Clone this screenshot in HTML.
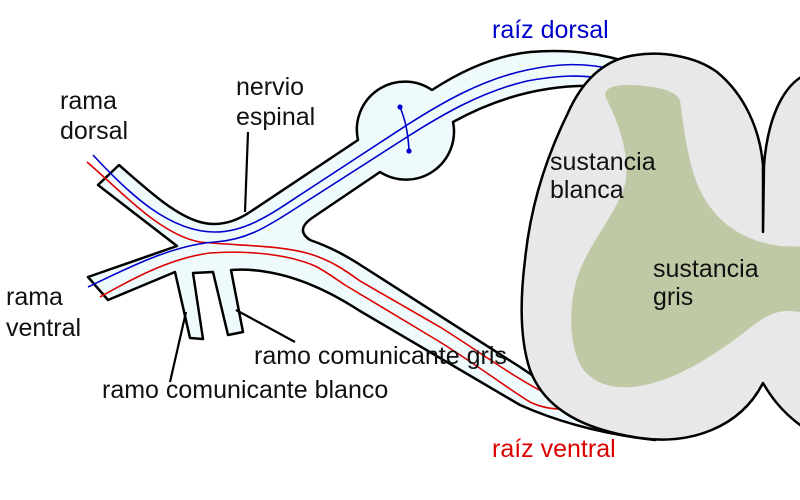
<!DOCTYPE html>
<html>
<head>
<meta charset="utf-8">
<style>
html,body{margin:0;padding:0;background:#fff;}
svg{display:block;}
text{font-family:"Liberation Sans",Arial,sans-serif;font-size:25px;fill:#111;}
</style>
</head>
<body>
<svg width="800" height="500" viewBox="0 0 800 500" xmlns="http://www.w3.org/2000/svg">
<rect width="800" height="500" fill="#fff"/>

<!-- nerve -->
<path d="M119,165 C150,192 175,215 200,222 C218,227 235,222 250,212 L358,140 A48,48 0 0 1 432,90 C455,75 490,56 530,52 C565,49 600,52 640,66 L640,90 L600,86 C550,84 500,96 453,122 A48,48 0 0 1 380,172 L312,218 Q295,230 310,240 C330,247 345,255 362,266 L520,367 C535,377 548,386 560,394 L600,420 L655,440 C610,435 565,425 520,405 L360,311 C320,285 275,267 231,270 L243,332 L228,335 L213,272 L193,273 L203,339 L190,338 L175,272 L108,300 L88,277 L177,246 L98,185 Z" fill="#eefafb" stroke="#000" stroke-width="2.5" stroke-linejoin="round"/>

<!-- red fibres -->
<path d="M87,162 C120,190 160,235 200,242 C240,246 280,245 310,254 C330,260 345,270 360,281 L440,327 C480,352 510,375 545,393" fill="none" stroke="#dd0000" stroke-width="1.6"/>
<path d="M100,297 C130,280 170,258 210,253 C250,250 290,255 315,266 C325,271 333,277 345,285 L440,342 C480,367 510,390 530,402 C540,407 550,409 562,409" fill="none" stroke="#dd0000" stroke-width="1.6"/>

<!-- blue fibres -->
<path d="M93,155 C130,195 170,232 215,232 C245,232 270,215 300,195 L407,125 C440,104 480,80 527,70 C560,63 585,63 612,69" fill="none" stroke="#0000cc" stroke-width="1.6"/>
<path d="M88,287 C120,272 170,245 215,242 C245,240 265,228 290,212 L407,137 C440,116 480,92 527,81 C560,75 580,75 600,78" fill="none" stroke="#0000cc" stroke-width="1.6"/>

<!-- ganglion neuron -->
<path d="M400,107 Q408,126 409,151" fill="none" stroke="#0000cc" stroke-width="1.6"/>
<circle cx="400" cy="107" r="2.6" fill="#0000cc"/>
<circle cx="409" cy="151" r="2.6" fill="#0000cc"/>

<!-- spinal cord -->
<path d="M763,232 L763,165 C760,130 745,95 717,72 C695,56 660,50 630,56 C600,62 580,85 567,115 C545,160 530,210 525,260 C520,300 520,340 530,370 C545,410 585,430 640,438 C690,445 740,428 763,383 C770,395 780,410 800,425 L812,430 L812,72 C785,80 768,115 764,165 Z" fill="#e8e8e8" stroke="#000" stroke-width="2.5" stroke-linejoin="round"/>

<!-- grey matter -->
<path d="M607,100 C600,88 615,84 632,85 C655,86 675,90 680,100 C684,130 688,165 700,190 C712,215 735,240 780,246 L812,247 L812,313 L790,311 C765,310 750,330 727,345 C705,360 675,380 640,386 C615,390 595,385 582,368 C568,345 568,300 580,270 C592,240 615,215 625,185 C630,160 622,130 607,100 Z" fill="#bfc9a6"/>

<!-- leader lines -->
<line x1="248" y1="132" x2="245" y2="212" stroke="#000" stroke-width="2.2"/>
<line x1="186" y1="312" x2="170" y2="382" stroke="#000" stroke-width="2.2"/>
<line x1="236" y1="310" x2="295" y2="342" stroke="#000" stroke-width="2.2"/>

<!-- labels -->
<text x="492" y="38" style="fill:#0000cc">raíz dorsal</text>
<text x="60" y="109">rama</text>
<text x="60" y="139">dorsal</text>
<text x="236" y="95">nervio</text>
<text x="236" y="125">espinal</text>
<text x="550" y="170">sustancia</text>
<text x="550" y="198">blanca</text>
<text x="653" y="277">sustancia</text>
<text x="653" y="305">gris</text>
<text x="6" y="305">rama</text>
<text x="6" y="336">ventral</text>
<text x="254" y="364">ramo comunicante gris</text>
<text x="102" y="398">ramo comunicante blanco</text>
<text x="492" y="457" style="fill:#dd0000">raíz ventral</text>
</svg>
</body>
</html>
